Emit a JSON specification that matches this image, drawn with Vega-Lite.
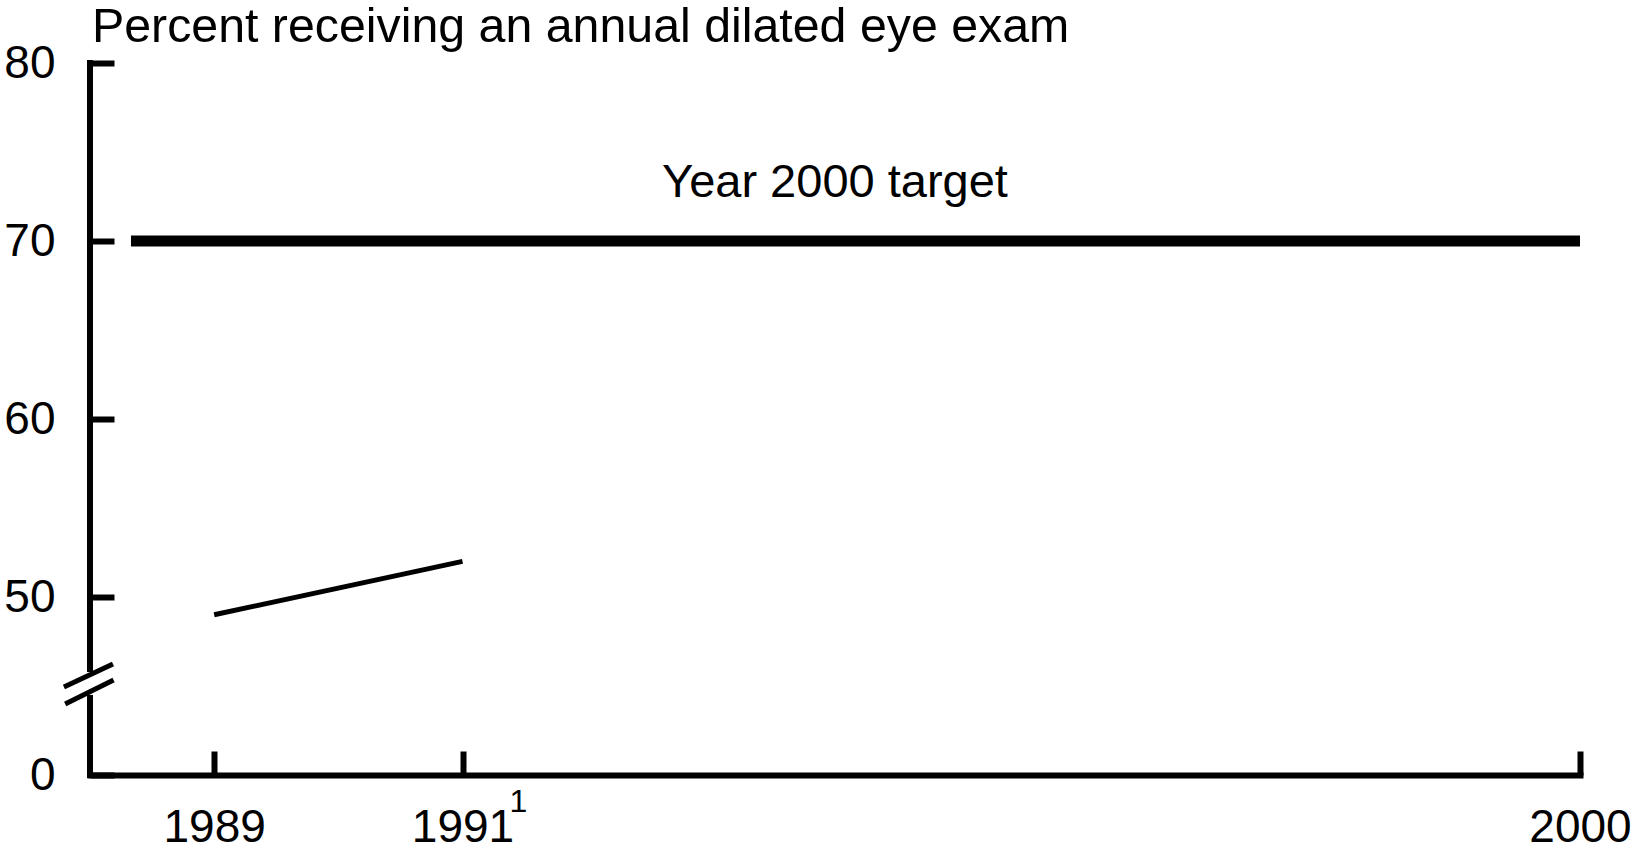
{
  "$schema": "https://vega.github.io/schema/vega-lite/v6.json",
  "width": 1490,
  "height": 712,
  "autosize": {"type": "none"},
  "padding": {"left": 90, "top": 63, "right": 54, "bottom": 74},
  "background": "white",
  "config": {"view": {"stroke": null}, "font": "Liberation Sans"},
  "datasets": {
    "series": [{"year": 1989, "pct": 49}, {"year": 1991, "pct": 52}],
    "target": [{"year": 1988.33, "year2": 2000, "pct": 70}],
    "targetLabel": [{"year": 1994, "pct": 70, "label": "Year 2000 target"}],
    "chartTitle": [{"year": 1988, "pct": 80, "label": "Percent receiving an annual dilated eye exam"}],
    "axisLine": [{"year": 1988, "pct": 80, "pct2": 45.96}, {"year": 1988, "pct": 44.33, "pct2": 40}],
    "breakMarks": [
      {"year": 1987.79, "year2": 1988.185, "pct": 44.94, "pct2": 46.24},
      {"year": 1987.8, "year2": 1988.19, "pct": 43.99, "pct2": 45.34}
    ],
    "footnote": [{"year": 1991, "pct": 40, "mark": "1"}]
  },
  "layer": [
    {
      "data": {"name": "series"},
      "mark": {"type": "line", "color": "black", "strokeWidth": 5, "strokeCap": "butt"},
      "encoding": {
        "x": {
          "field": "year",
          "type": "quantitative",
          "scale": {"domain": [1988, 2000], "nice": false, "zero": false},
          "axis": {
            "values": [1989, 1991, 2000],
            "format": "d",
            "title": null,
            "grid": false,
            "labelFlush": false,
            "labelOverlap": false,
            "domain": true,
            "domainColor": "black",
            "domainWidth": 6,
            "domainCap": "square",
            "ticks": true,
            "tickColor": "black",
            "tickWidth": 6,
            "tickSize": -24,
            "tickCap": "butt",
            "labelFont": "Liberation Sans",
            "labelFontSize": 46,
            "labelColor": "black",
            "labelPadding": 54
          }
        },
        "y": {
          "field": "pct",
          "type": "quantitative",
          "scale": {"domain": [40, 80], "nice": false, "zero": false},
          "axis": {
            "values": [40, 50, 60, 70, 80],
            "labelExpr": "datum.value == 40 ? '0' : datum.label",
            "title": null,
            "grid": false,
            "domain": false,
            "labelOverlap": false,
            "labelFlush": false,
            "tickColor": "black",
            "tickWidth": 6,
            "tickSize": -24,
            "tickCap": "butt",
            "labelFont": "Liberation Sans",
            "labelFontSize": 46,
            "labelColor": "black",
            "labelPadding": 59
          }
        }
      }
    },
    {
      "data": {"name": "target"},
      "mark": {"type": "rule", "color": "black", "strokeWidth": 11, "strokeCap": "butt"},
      "encoding": {
        "x": {"field": "year", "type": "quantitative"},
        "x2": {"field": "year2"},
        "y": {"field": "pct", "type": "quantitative"}
      }
    },
    {
      "data": {"name": "targetLabel"},
      "mark": {"type": "text", "color": "black", "fontSize": 47, "font": "Liberation Sans", "align": "center", "baseline": "alphabetic", "dy": -44.5},
      "encoding": {
        "x": {"field": "year", "type": "quantitative"},
        "y": {"field": "pct", "type": "quantitative"},
        "text": {"field": "label"}
      }
    },
    {
      "data": {"name": "chartTitle"},
      "mark": {"type": "text", "color": "black", "fontSize": 48.3, "font": "Liberation Sans", "align": "left", "baseline": "alphabetic", "dx": 2, "dy": -21},
      "encoding": {
        "x": {"field": "year", "type": "quantitative"},
        "y": {"field": "pct", "type": "quantitative"},
        "text": {"field": "label"}
      }
    },
    {
      "data": {"name": "axisLine"},
      "mark": {"type": "rule", "color": "black", "strokeWidth": 6, "strokeCap": "square"},
      "encoding": {
        "x": {"field": "year", "type": "quantitative"},
        "y": {"field": "pct", "type": "quantitative"},
        "y2": {"field": "pct2"}
      }
    },
    {
      "data": {"name": "breakMarks"},
      "mark": {"type": "rule", "color": "black", "strokeWidth": 5, "strokeCap": "butt"},
      "encoding": {
        "x": {"field": "year", "type": "quantitative"},
        "x2": {"field": "year2"},
        "y": {"field": "pct", "type": "quantitative"},
        "y2": {"field": "pct2"}
      }
    },
    {
      "data": {"name": "footnote"},
      "mark": {"type": "text", "color": "black", "fontSize": 32, "font": "Liberation Sans", "align": "left", "baseline": "top", "dx": 47, "dy": 12},
      "encoding": {
        "x": {"field": "year", "type": "quantitative"},
        "y": {"field": "pct", "type": "quantitative"},
        "text": {"field": "mark"}
      }
    }
  ]
}
